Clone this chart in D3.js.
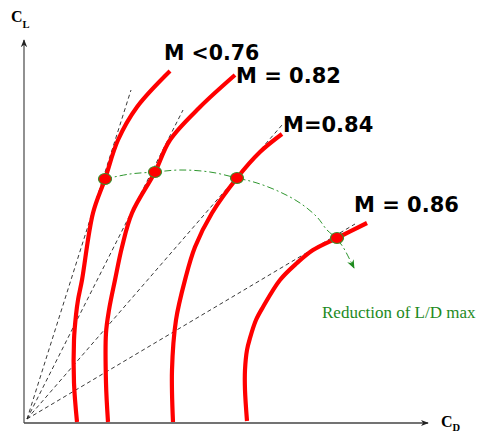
<!DOCTYPE html>
<html><head><meta charset="utf-8">
<script src="https://cdn.jsdelivr.net/npm/d3@7"></script>
<style>html,body{margin:0;padding:0;background:#fff;}</style>
</head><body>
<script>
// ---- data (C_D, C_L in arbitrary chart units) ----
const machLabels = ["M <0.76", "M = 0.82", "M=0.84", "M = 0.86"];
const curve1CD = [53,50,50,52,54,58,69,81,94,113,146];
const curve1CL = [1,40,83,108,123,143,210,244,283,316,352];
const curve2CD = [84,82,82,85,91,98,108,131,146,176,211];
const curve2CL = [1,40,90,113,143,176,210,251,283,316,348];
const curve3CD = [149,148,152,161,171,188,213,236,258];
const curve3CL = [1,53,103,143,176,210,245,271,289];
const curve4CD = [223,221,221,223,226,232,239,256,273,289,313,343];
const curve4CL = [2,33,53,73,85,103,116,143,160,173,185,200];
const ldMaxCD = [81,131,213,313];
const ldMaxCL = [244,251,245,185];
const tangentOrigin = [3,4];
const tangentEndCD = [107,159,258,331];
const tangentEndCL = [333,313,298,199];
const trendCD = [81,106,131,156,186,213,233,256,276,293,303,312,319,326,330];
const trendCL = [244,249,251,253,251,245,240,231,220,206,193,185,176,163,155];
const labelCD = [140,212,259,330];
const labelCL = [363,340,291,211];
const trendLabel = "Reduction of L/D max";
const trendLabelPos = [298,105];

const W = 477, H = 434;
const svg = d3.select("body").append("svg").attr("width", W).attr("height", H)
  .style("font-family","DejaVu Sans");
const x = d3.scaleLinear().domain([0,400]).range([24,424]);
const y = d3.scaleLinear().domain([0,400]).range([423,23]);

const defs = svg.append("defs");
defs.append("marker").attr("id","axArrow").attr("viewBox","0 0 10 10")
  .attr("refX",9).attr("refY",5).attr("markerWidth",8).attr("markerHeight",8)
  .attr("markerUnits","userSpaceOnUse").attr("orient","auto")
  .append("path").attr("d","M0,1 L10,5 L0,9 L3,5 z").attr("fill","#222");
defs.append("marker").attr("id","grArrow").attr("viewBox","0 0 10 10")
  .attr("refX",9).attr("refY",5).attr("markerWidth",9).attr("markerHeight",9)
  .attr("markerUnits","userSpaceOnUse").attr("orient","auto")
  .append("path").attr("d","M0,1 L10,5 L0,9 L3,5 z").attr("fill","#1d8a1d");

// axes
svg.append("line").attr("x1",x(0)).attr("y1",y(0)).attr("x2",x(0)).attr("y2",y(383))
  .attr("stroke","#555").attr("stroke-width",1.3).attr("marker-end","url(#axArrow)");
svg.append("line").attr("x1",x(0)).attr("y1",y(0)).attr("x2",x(404)).attr("y2",y(0))
  .attr("stroke","#444").attr("stroke-width",1.6).attr("marker-end","url(#axArrow)");

// axis labels
const cl = svg.append("text").attr("x",11).attr("y",22)
  .style("font-family","Liberation Serif").style("font-weight","bold").style("font-size","16px");
cl.append("tspan").text("C");
cl.append("tspan").attr("dy",6).style("font-size","10.5px").text("L");
const cd = svg.append("text").attr("x",441).attr("y",427)
  .style("font-family","Liberation Serif").style("font-weight","bold").style("font-size","16px");
cd.append("tspan").text("C");
cd.append("tspan").attr("dy",4).style("font-size","10.5px").text("D");

// tangent lines
tangentEndCD.forEach((v,i)=>{
  svg.append("line").attr("x1",x(tangentOrigin[0])).attr("y1",y(tangentOrigin[1]))
    .attr("x2",x(v)).attr("y2",y(tangentEndCL[i]))
    .attr("stroke","#222").attr("stroke-width",0.9).attr("stroke-dasharray","4,3");
});

// drag polars
const line = d3.line().x(d=>x(d[0])).y(d=>y(d[1])).curve(d3.curveCatmullRom.alpha(0.5));
const curves = [[curve1CD,curve1CL],[curve2CD,curve2CL],[curve3CD,curve3CL],[curve4CD,curve4CL]];
curves.forEach(([a,b])=>{
  svg.append("path").attr("d", line(a.map((v,i)=>[v,b[i]])))
    .attr("fill","none").attr("stroke","#ff0000").attr("stroke-width",4.2);
});

// green trend
svg.append("path").attr("d", line(trendCD.map((v,i)=>[v,trendCL[i]])))
  .attr("fill","none").attr("stroke","#2e962e").attr("stroke-width",1)
  .attr("stroke-dasharray","7,3,2,3").attr("marker-end","url(#grArrow)");

// L/D max points
ldMaxCD.forEach((v,i)=>{
  svg.append("ellipse").attr("cx",x(v)).attr("cy",y(ldMaxCL[i])).attr("rx",6.5).attr("ry",5.5)
    .attr("fill","#ff0000").attr("stroke","#3a8f2a").attr("stroke-width",1.2);
});

// labels
const sizes = [20.5,21,21,21];
machLabels.forEach((t,i)=>{
  svg.append("text").attr("x",x(labelCD[i])).attr("y",y(labelCL[i]))
    .style("font-weight","bold").style("font-size",sizes[i]+"px").attr("fill","#000").text(t);
});
svg.append("text").attr("x",x(trendLabelPos[0])).attr("y",y(trendLabelPos[1]))
  .style("font-family","Liberation Serif").style("font-size","17px").attr("fill","#1d8a1d")
  .text(trendLabel);
</script>
</body></html>
